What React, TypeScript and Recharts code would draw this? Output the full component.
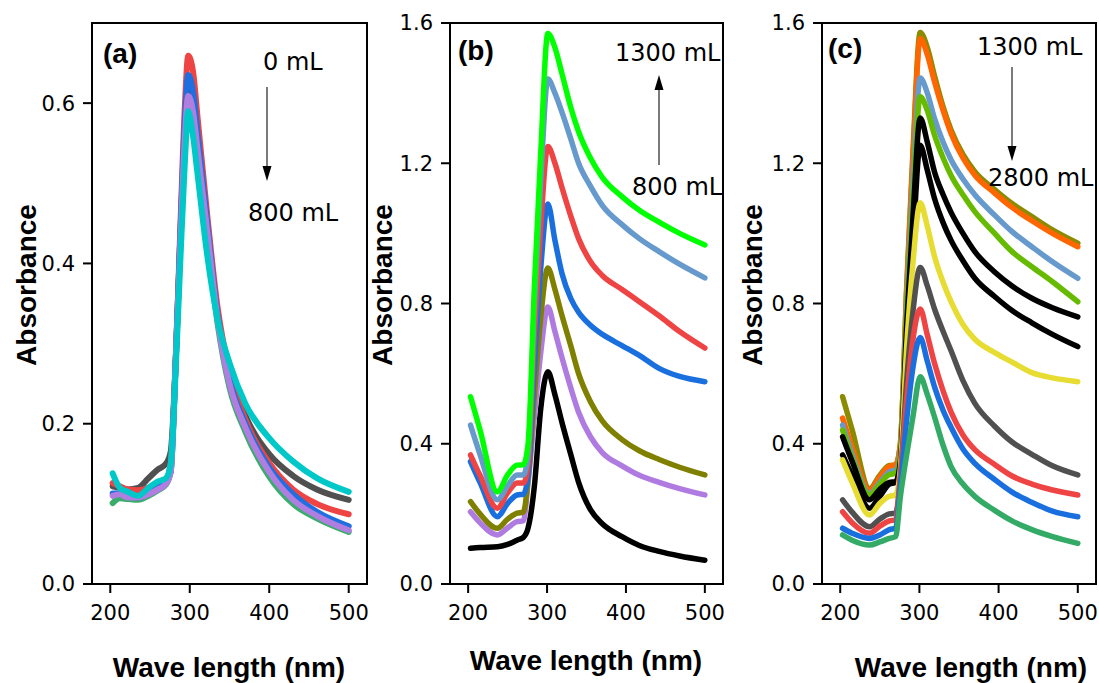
import { LineChart, Line, XAxis, YAxis, ReferenceArea } from "recharts"

// wavelengths (nm) for panel (a)
const WAVE_A = [203, 212, 222, 235, 248, 260, 270, 276, 282, 288, 294, 298, 304, 310, 322, 335, 350, 370, 400, 430, 460, 500]

const A_GREEN = [0.101, 0.107, 0.106, 0.105, 0.11, 0.117, 0.124, 0.14, 0.27, 0.42, 0.55, 0.6, 0.58, 0.53, 0.43, 0.325, 0.245, 0.19, 0.134, 0.1, 0.082, 0.065]
const A_GRAY = [0.122, 0.12, 0.118, 0.12, 0.132, 0.143, 0.15, 0.165, 0.27, 0.43, 0.57, 0.625, 0.605, 0.55, 0.44, 0.335, 0.265, 0.21, 0.162, 0.135, 0.118, 0.105]
const A_RED = [0.126, 0.122, 0.118, 0.117, 0.12, 0.126, 0.13, 0.15, 0.27, 0.44, 0.6, 0.659, 0.64, 0.58, 0.46, 0.345, 0.265, 0.205, 0.151, 0.118, 0.1, 0.087]
const A_BLUE = [0.113, 0.113, 0.11, 0.108, 0.113, 0.12, 0.127, 0.14, 0.27, 0.43, 0.58, 0.635, 0.615, 0.56, 0.45, 0.335, 0.255, 0.2, 0.145, 0.112, 0.09, 0.072]
const A_PURPLE = [0.11, 0.112, 0.108, 0.108, 0.112, 0.118, 0.125, 0.14, 0.27, 0.42, 0.56, 0.609, 0.59, 0.54, 0.44, 0.33, 0.25, 0.195, 0.14, 0.105, 0.085, 0.067]
const A_CYAN = [0.138, 0.12, 0.115, 0.11, 0.12, 0.128, 0.132, 0.15, 0.26, 0.4, 0.53, 0.59, 0.56, 0.51, 0.41, 0.33, 0.276, 0.225, 0.182, 0.153, 0.132, 0.115]

// wavelengths (nm) for panels (b) and (c)
const WAVE_BC = [203, 215, 237, 250, 262, 270, 276, 284, 292, 301, 310, 319, 330, 340, 355, 370, 395, 417, 442, 468, 500]

const B_GREEN = [0.534, 0.44, 0.263, 0.311, 0.339, 0.34, 0.4, 0.85, 1.23, 1.57, 1.53, 1.455, 1.36, 1.29, 1.215, 1.16, 1.105, 1.066, 1.032, 1.0, 0.967]
const B_LBLUE = [0.453, 0.37, 0.24, 0.28, 0.311, 0.311, 0.37, 0.8, 1.15, 1.44, 1.4, 1.345, 1.27, 1.2, 1.135, 1.08, 1.025, 0.985, 0.948, 0.912, 0.873]
const B_RED = [0.368, 0.31, 0.216, 0.26, 0.288, 0.288, 0.34, 0.72, 1.02, 1.248, 1.2, 1.13, 1.05, 0.985, 0.92, 0.88, 0.84, 0.805, 0.765, 0.72, 0.673]
const B_BLUE = [0.349, 0.29, 0.192, 0.23, 0.254, 0.256, 0.31, 0.62, 0.9, 1.084, 0.98, 0.885, 0.815, 0.775, 0.738, 0.712, 0.68, 0.652, 0.615, 0.592, 0.577]
const B_OLIVE = [0.235, 0.2, 0.159, 0.185, 0.202, 0.205, 0.3, 0.54, 0.76, 0.901, 0.84, 0.765, 0.68, 0.6, 0.52, 0.465, 0.412, 0.38, 0.355, 0.333, 0.311]
const B_PURPLE = [0.206, 0.175, 0.14, 0.16, 0.178, 0.18, 0.29, 0.48, 0.66, 0.79, 0.72, 0.645, 0.56, 0.49, 0.42, 0.375, 0.337, 0.31, 0.29, 0.272, 0.254]
const B_BLACK = [0.102, 0.104, 0.106, 0.113, 0.125, 0.133, 0.16, 0.28, 0.5, 0.605, 0.54, 0.46, 0.37, 0.29, 0.212, 0.172, 0.135, 0.11, 0.093, 0.08, 0.068]

const C_OLIVE = [0.534, 0.44, 0.272, 0.31, 0.338, 0.34, 0.4, 0.85, 1.24, 1.573, 1.53, 1.45, 1.36, 1.295, 1.225, 1.176, 1.125, 1.085, 1.048, 1.01, 0.972]
const C_ORANGE = [0.473, 0.39, 0.268, 0.305, 0.335, 0.339, 0.4, 0.84, 1.22, 1.555, 1.51, 1.433, 1.35, 1.285, 1.215, 1.166, 1.115, 1.074, 1.036, 1.0, 0.962]
const C_LBLUE = [0.453, 0.37, 0.258, 0.29, 0.32, 0.325, 0.38, 0.8, 1.15, 1.443, 1.4, 1.328, 1.26, 1.21, 1.155, 1.11, 1.052, 1.005, 0.962, 0.919, 0.872]
const C_YGREEN = [0.439, 0.36, 0.254, 0.285, 0.312, 0.316, 0.37, 0.78, 1.1, 1.39, 1.35, 1.281, 1.215, 1.165, 1.11, 1.062, 1.0, 0.948, 0.905, 0.862, 0.805]
const C_BLACK1 = [0.42, 0.35, 0.24, 0.27, 0.29, 0.292, 0.35, 0.74, 1.05, 1.329, 1.26, 1.176, 1.11, 1.06, 1.0, 0.948, 0.89, 0.85, 0.815, 0.788, 0.762]
const C_BLACK2 = [0.368, 0.31, 0.216, 0.25, 0.285, 0.29, 0.34, 0.7, 0.98, 1.251, 1.18, 1.1, 1.03, 0.98, 0.922, 0.872, 0.82, 0.78, 0.745, 0.712, 0.677]
const C_YELLOW = [0.354, 0.29, 0.197, 0.23, 0.25, 0.254, 0.33, 0.68, 0.92, 1.087, 1.02, 0.935, 0.86, 0.805, 0.74, 0.698, 0.66, 0.633, 0.603, 0.588, 0.577]
const C_GRAY = [0.24, 0.205, 0.163, 0.185, 0.2, 0.202, 0.3, 0.58, 0.78, 0.903, 0.85, 0.785, 0.72, 0.665, 0.58, 0.515, 0.45, 0.405, 0.37, 0.337, 0.311]
const C_RED = [0.206, 0.175, 0.145, 0.165, 0.18, 0.183, 0.31, 0.53, 0.7, 0.784, 0.71, 0.63, 0.55, 0.49, 0.425, 0.383, 0.341, 0.308, 0.285, 0.268, 0.254]
const C_BLUE = [0.159, 0.145, 0.13, 0.14, 0.155, 0.159, 0.28, 0.47, 0.62, 0.703, 0.635, 0.563, 0.495, 0.447, 0.385, 0.344, 0.298, 0.262, 0.233, 0.208, 0.192]
const C_GREEN = [0.14, 0.125, 0.111, 0.12, 0.13, 0.135, 0.25, 0.37, 0.48, 0.591, 0.54, 0.477, 0.395, 0.335, 0.285, 0.25, 0.21, 0.18, 0.155, 0.135, 0.116]

const X_TICKS = [200, 300, 400, 500]
const Y_TICKS_A = [0, 0.2, 0.4, 0.6]
const Y_TICKS_BC = [0, 0.4, 0.8, 1.2, 1.6]
const X_DOMAIN = [177, 523]

interface Series {
    key: string
    values: number[]
    color: string
}

const SERIES_A: Series[] = [
    { key: "green", values: A_GREEN, color: "#3aac6c" },
    { key: "gray", values: A_GRAY, color: "#505050" },
    { key: "red", values: A_RED, color: "#ee4444" },
    { key: "blue", values: A_BLUE, color: "#1f6fe0" },
    { key: "purple", values: A_PURPLE, color: "#b07ee0" },
    { key: "cyan", values: A_CYAN, color: "#00c8c8" },
]

const SERIES_B: Series[] = [
    { key: "black", values: B_BLACK, color: "#000000" },
    { key: "purple", values: B_PURPLE, color: "#b07be0" },
    { key: "olive", values: B_OLIVE, color: "#808000" },
    { key: "blue", values: B_BLUE, color: "#1a6fdf" },
    { key: "red", values: B_RED, color: "#ee4444" },
    { key: "lblue", values: B_LBLUE, color: "#6699cc" },
    { key: "green", values: B_GREEN, color: "#00ff00" },
]

const SERIES_C: Series[] = [
    { key: "olive", values: C_OLIVE, color: "#8b8b00" },
    { key: "orange", values: C_ORANGE, color: "#ff6600" },
    { key: "lblue", values: C_LBLUE, color: "#6699cc" },
    { key: "ygreen", values: C_YGREEN, color: "#66bb00" },
    { key: "black1", values: C_BLACK1, color: "#000000" },
    { key: "black2", values: C_BLACK2, color: "#000000" },
    { key: "yellow", values: C_YELLOW, color: "#e6dc32" },
    { key: "gray", values: C_GRAY, color: "#505050" },
    { key: "red", values: C_RED, color: "#ee4444" },
    { key: "blue", values: C_BLUE, color: "#1a6fdf" },
    { key: "green", values: C_GREEN, color: "#33aa66" },
]

function buildRows(wave: number[], series: Series[]) {
    return wave.map((w, i) => {
        const row: Record<string, number> = { w }
        series.forEach((s) => {
            row[s.key] = s.values[i]
        })
        return row
    })
}

const TICK_FONT = { fill: "#000", fontSize: 21, fontFamily: "DejaVu Sans" }
const AXIS_LINE = { stroke: "#000", strokeWidth: 2 }

function Panel({ left, width, marginLeft, marginRight, yMax, yTicks, wave, series, lineWidth }: {
    left: number
    width: number
    marginLeft: number
    marginRight: number
    yMax: number
    yTicks: number[]
    wave: number[]
    series: Series[]
    lineWidth: number
}) {
    const rows = buildRows(wave, series)
    return (
        <div style={{ position: "absolute", left, top: 0, fontFamily: "DejaVu Sans" }}>
            <LineChart width={width} height={683} data={rows} margin={{ top: 23, right: marginRight, bottom: 59, left: marginLeft }}>
                <XAxis
                    dataKey="w"
                    type="number"
                    domain={X_DOMAIN}
                    ticks={X_TICKS}
                    allowDataOverflow
                    height={40}
                    tickSize={9}
                    tickMargin={12}
                    axisLine={AXIS_LINE}
                    tickLine={AXIS_LINE}
                    tick={TICK_FONT}
                    fontSize={21}
                />
                <YAxis
                    type="number"
                    domain={[0, yMax]}
                    ticks={yTicks}
                    allowDataOverflow
                    width={60}
                    tickSize={9}
                    tickMargin={8}
                    axisLine={AXIS_LINE}
                    tickLine={AXIS_LINE}
                    tick={TICK_FONT}
                    fontSize={21}
                    tickFormatter={(v: number) => v.toFixed(1)}
                />
                <ReferenceArea x1={X_DOMAIN[0]} x2={X_DOMAIN[1]} y1={0} y2={yMax} fill="none" stroke="#000" strokeWidth={2} ifOverflow="visible" />
                {series.map((s) => (
                    <Line
                        key={s.key}
                        dataKey={s.key}
                        type="monotone"
                        stroke={s.color}
                        strokeWidth={lineWidth}
                        strokeLinecap="round"
                        strokeLinejoin="round"
                        dot={false}
                        isAnimationActive={false}
                    />
                ))}
            </LineChart>
        </div>
    )
}

const BOLD = { fontFamily: "Liberation Sans, Arial, sans-serif", fontWeight: 700, fontSize: 28, fill: "#000" }
const NOTE = { fontFamily: "DejaVu Sans, sans-serif", fontSize: 24, fill: "#000" }

export default function App() {
    return (
        <div style={{ position: "absolute", left: 0, top: 0, width: 1099, height: 683, background: "#fff" }}>
            <Panel left={0} width={372} marginLeft={32} marginRight={5} yMax={0.7} yTicks={Y_TICKS_A} wave={WAVE_A} series={SERIES_A} lineWidth={6} />
            <Panel left={372} width={355} marginLeft={18} marginRight={4} yMax={1.6} yTicks={Y_TICKS_BC} wave={WAVE_BC} series={SERIES_B} lineWidth={5.5} />
            <Panel left={727} width={372} marginLeft={35} marginRight={3} yMax={1.6} yTicks={Y_TICKS_BC} wave={WAVE_BC} series={SERIES_C} lineWidth={5.5} />
            <svg width={1099} height={683} style={{ position: "absolute", left: 0, top: 0, pointerEvents: "none" }}>
                <text x={103} y={53} dominantBaseline="central" {...BOLD}>(a)</text>
                <text x={458} y={50} dominantBaseline="central" {...BOLD}>(b)</text>
                <text x={828} y={48} dominantBaseline="central" {...BOLD}>(c)</text>

                <text x={229} y={667} textAnchor="middle" dominantBaseline="central" {...BOLD}>Wave length (nm)</text>
                <text x={586} y={660} textAnchor="middle" dominantBaseline="central" {...BOLD}>Wave length (nm)</text>
                <text x={971} y={667} textAnchor="middle" dominantBaseline="central" {...BOLD}>Wave length (nm)</text>

                <text transform="translate(26,285) rotate(-90)" textAnchor="middle" dominantBaseline="central" {...BOLD}>Absorbance</text>
                <text transform="translate(382,285) rotate(-90)" textAnchor="middle" dominantBaseline="central" {...BOLD}>Absorbance</text>
                <text transform="translate(752,285) rotate(-90)" textAnchor="middle" dominantBaseline="central" {...BOLD}>Absorbance</text>

                <text x={263} y={62} dominantBaseline="central" {...NOTE}>0 mL</text>
                <text x={248} y={213} dominantBaseline="central" {...NOTE}>800 mL</text>
                <line x1={267} y1={87} x2={267} y2={168} stroke="#333" strokeWidth={1.3} />
                <polygon points="262.5,166 271.5,166 267,181" fill="#000" />

                <text x={615} y={53} dominantBaseline="central" {...NOTE}>1300 mL</text>
                <text x={632} y={187} dominantBaseline="central" {...NOTE}>800 mL</text>
                <line x1={659} y1={165} x2={659} y2={88} stroke="#333" strokeWidth={1.3} />
                <polygon points="654.5,90 663.5,90 659,75" fill="#000" />

                <text x={977} y={47} dominantBaseline="central" {...NOTE}>1300 mL</text>
                <text x={988} y={178} dominantBaseline="central" {...NOTE}>2800 mL</text>
                <line x1={1012} y1={67} x2={1012} y2={148} stroke="#333" strokeWidth={1.3} />
                <polygon points="1007.5,146 1016.5,146 1012,161" fill="#000" />
            </svg>
        </div>
    )
}
